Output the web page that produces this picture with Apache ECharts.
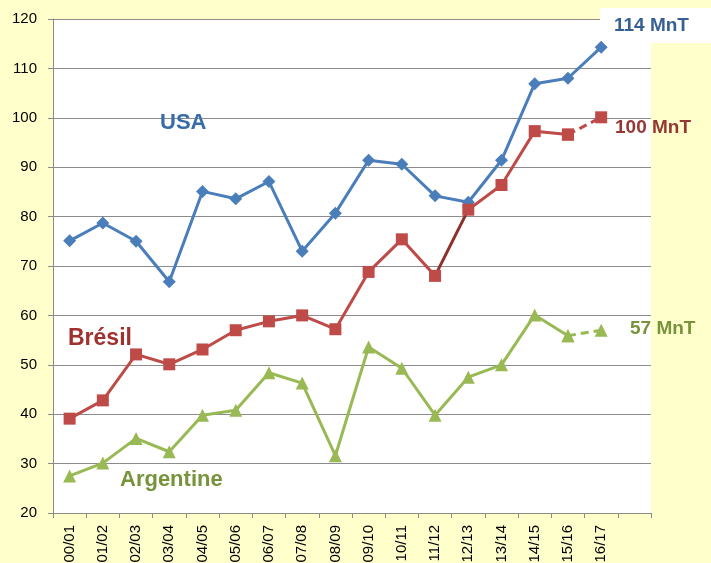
<!DOCTYPE html>
<html>
<head>
<meta charset="utf-8">
<script src="https://cdn.jsdelivr.net/npm/echarts@6/dist/echarts.min.js"></script>
<style>
html,body{margin:0;padding:0;background:#FFFFCC;}
#chart{width:711px;height:563px;}
</style>
</head>
<body>
<div id="chart"></div>
<script>
var categories = ['00/01','01/02','02/03','03/04','04/05','05/06','06/07','07/08','08/09','09/10','10/11','11/12','12/13','13/14','14/15','15/16','16/17',''];
var usa = [75.1, 78.7, 75.0, 66.8, 85.1, 83.6, 87.1, 73.0, 80.7, 91.4, 90.6, 84.2, 82.9, 91.4, 106.9, 108.0, 114.3];
var bresil = [39.1, 42.8, 52.1, 50.1, 53.1, 57.0, 58.8, 60.0, 57.2, 68.8, 75.4, 68.0, 81.4, 86.4, 97.3, 96.6, 100.1];
var argentine = [27.5, 30.1, 35.1, 32.4, 39.8, 40.8, 48.4, 46.3, 31.6, 53.6, 49.3, 39.8, 47.5, 50.0, 60.1, 55.9, 57.0];
var yTicks = {min: 20, max: 120, interval: 10};

function seg(arr, from, to) {
  return arr.map(function(v, i){ return (i >= from && i <= to) ? v : null; });
}
var last = usa.length - 1;

var chart = echarts.init(document.getElementById('chart'));
var blue = '#4A7EBB', red = '#BE4B48', darkRed = '#8E2F2C', green = '#98B954';
var option = {
  backgroundColor: '#FFFFCC',
  animation: false,
  grid: {left: 53, right: 60, top: 19, bottom: 50, show: true, backgroundColor: '#ffffff', borderWidth: 0,
         containLabel: false, outerBoundsMode: 'none'},
  xAxis: {
    type: 'category', data: categories, boundaryGap: true,
    axisLine: {lineStyle: {color: '#8a8a8a', width: 1}},
    axisTick: {show: true, length: 5, lineStyle: {color: '#8a8a8a'}, interval: 0},
    axisLabel: {interval: 0, rotate: 90, margin: 12, fontSize: 15, color: '#000', fontFamily: 'Liberation Sans'},
    splitLine: {show: false}
  },
  yAxis: {
    type: 'value', min: yTicks.min, max: yTicks.max, interval: yTicks.interval,
    axisLine: {show: true, lineStyle: {color: '#8a8a8a', width: 1}},
    axisTick: {show: true, length: 5, lineStyle: {color: '#8a8a8a'}},
    axisLabel: {margin: 16, fontSize: 15, color: '#000', fontFamily: 'Liberation Sans'},
    splitLine: {lineStyle: {color: '#8c8c8c', width: 1.2}}
  },
  series: [
    {name: 'USA', type: 'line', data: usa, symbol: 'diamond', symbolSize: 13,
     lineStyle: {color: blue, width: 3}, itemStyle: {color: blue}, z: 2},
    {name: 'Brésil a', type: 'line', data: seg(bresil, 0, 11), symbol: 'rect', symbolSize: 12,
     lineStyle: {color: red, width: 3}, itemStyle: {color: red}, z: 4},
    {name: 'Brésil b', type: 'line', data: seg(bresil, 11, 12), symbol: 'none',
     lineStyle: {color: darkRed, width: 3}, z: 3},
    {name: 'Brésil c', type: 'line', data: seg(bresil, 12, last - 1), symbol: 'rect', symbolSize: 12,
     lineStyle: {color: red, width: 3}, itemStyle: {color: red}, z: 4},
    {name: 'Brésil d', type: 'line', data: seg(bresil, last - 1, last), symbol: 'rect', symbolSize: 12,
     lineStyle: {color: red, width: 3, type: [8, 5]}, itemStyle: {color: red}, z: 4},
    {name: 'Argentine a', type: 'line', data: seg(argentine, 0, last - 1), symbol: 'triangle', symbolSize: 13,
     lineStyle: {color: green, width: 3}, itemStyle: {color: green}, z: 5},
    {name: 'Argentine b', type: 'line', data: seg(argentine, last - 1, last), symbol: 'triangle', symbolSize: 13,
     lineStyle: {color: green, width: 3, type: [8, 5]}, itemStyle: {color: green}, z: 5}
  ],
  graphic: [
    {type: 'rect', left: 600, top: 8, shape: {width: 111, height: 35}, style: {fill: '#ffffff'}, z: 1},
    {type: 'text', left: 614, top: 16, style: {text: '114 MnT', fill: '#376092', font: 'bold 19px "Liberation Sans"'}, z: 10},
    {type: 'text', left: 615, top: 118, style: {text: '100 MnT', fill: '#953735', font: 'bold 19px "Liberation Sans"'}, z: 10},
    {type: 'text', left: 630, top: 319, style: {text: '57 MnT', fill: '#77933C', font: 'bold 19px "Liberation Sans"'}, z: 10},
    {type: 'text', left: 160, top: 112, style: {text: 'USA', fill: '#376CA8', font: 'bold 22px "Liberation Sans"'}, z: 10},
    {type: 'text', left: 68, top: 327, style: {text: 'Brésil', fill: '#A0312E', font: 'bold 23px "Liberation Sans"'}, z: 10},
    {type: 'text', left: 120, top: 469, style: {text: 'Argentine', fill: '#77933C', font: 'bold 22px "Liberation Sans"'}, z: 10}
  ]
};
chart.setOption(option);
</script>
</body>
</html>
